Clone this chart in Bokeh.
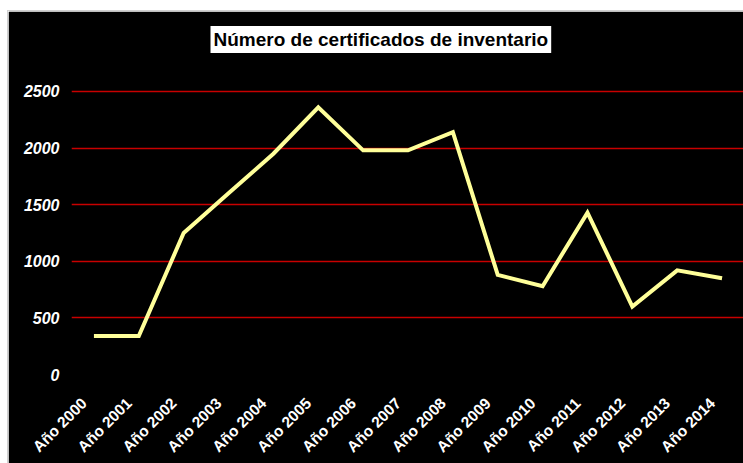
from bokeh.plotting import figure
from bokeh.models import Range1d, FixedTicker, LinearAxis
from bokeh.embed import file_html
from bokeh.resources import INLINE
import math

years = ["Año 2000", "Año 2001", "Año 2002", "Año 2003", "Año 2004", "Año 2005",
         "Año 2006", "Año 2007", "Año 2008", "Año 2009", "Año 2010", "Año 2011",
         "Año 2012", "Año 2013", "Año 2014"]
values = [340, 340, 1250, 1600, 1950, 2360, 1980, 1980, 2140, 880, 780, 1430, 600, 920, 850]
y_ticks = [0, 500, 1000, 1500, 2000, 2500]
grid_ticks = [500, 1000, 1500, 2000, 2500]
title_text = "Número de certificados de inventario"

pos = list(range(len(years)))  # category slots

p = figure(width=736, height=453, output_backend="svg", toolbar_location=None,
           x_range=Range1d(-0.5, len(years) - 0.5), y_range=Range1d(0, 2800),
           min_border_left=63, min_border_right=0, min_border_top=46, min_border_bottom=88)
p.styles = {"margin-left": "7px", "margin-top": "10px",
            "border-top": "1px solid #d0d0d0", "border-left": "1px solid #d0d0d0"}
p.background_fill_color = "black"
p.border_fill_color = "black"
p.outline_line_color = "black"
p.outline_line_width = 2

p.line(pos, values, line_color="#FFFF99", line_width=4, line_join="miter")

p.yaxis.ticker = FixedTicker(ticks=y_ticks)
p.ygrid.ticker = FixedTicker(ticks=grid_ticks)
p.ygrid.grid_line_color = "#c80000"
p.ygrid.grid_line_width = 1.5
p.xgrid.grid_line_color = None

main_x_axis = p.below[0]
main_x_axis.visible = False

# category label axis, shifted slightly left as in the reference
shift = 0.22
p.extra_x_ranges = {"lab": Range1d(-0.5 + shift, len(years) - 0.5 + shift)}
lab_axis = LinearAxis(x_range_name="lab",
                      ticker=FixedTicker(ticks=pos),
                      major_label_overrides={i: y for i, y in zip(pos, years)})
p.add_layout(lab_axis, "below")

for ax in (lab_axis, p.yaxis[0]):
    ax.axis_line_color = None
    ax.major_tick_line_color = None
    ax.minor_tick_line_color = None
    ax.major_tick_out = 0
    ax.major_tick_in = 0
    ax.minor_tick_out = 0
    ax.minor_tick_in = 0
    ax.major_label_text_color = "white"
    ax.major_label_text_font = "Liberation Sans"

p.yaxis.major_label_text_font_size = "16px"
p.yaxis.major_label_text_font_style = "bold italic"
p.yaxis.major_label_standoff = 12
lab_axis.major_label_text_font_size = "15.5px"
lab_axis.major_label_text_font_style = "bold"
lab_axis.major_label_orientation = math.pi / 4
lab_axis.major_label_standoff = 26

p.title.text = title_text
p.title.align = "left"
p.title.offset = 139
p.title.standoff = 9
p.title.text_color = "black"
p.title.text_font = "Liberation Sans"
p.title.text_font_style = "bold"
p.title.text_font_size = "19px"
p.title.background_fill_color = "white"
p.title.padding = 3

open("out.html", "w").write(file_html(p, INLINE))
